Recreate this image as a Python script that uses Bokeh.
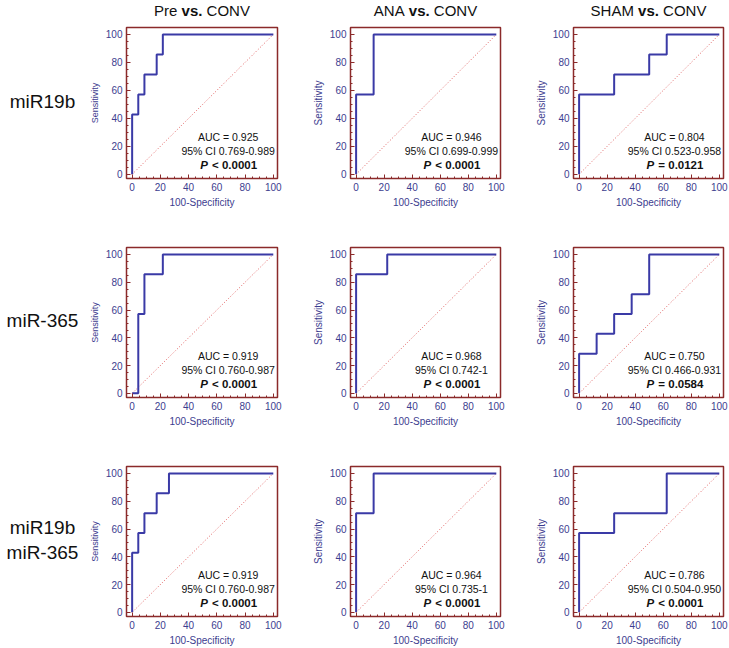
from bokeh.plotting import figure
from bokeh.layouts import column, row
from bokeh.models import Label, FixedTicker, Range1d
from bokeh.embed import file_html
from bokeh.resources import INLINE

# ---------------- data ----------------
groups = ["Pre", "ANA", "SHAM"]
reference_group = "CONV"
row_labels = [["miR19b"], ["miR-365"], ["miR19b", "miR-365"]]

# ROC curves: 100-Specificity (x) and Sensitivity (y); step held after each point
pre_19b_x = [0, 0, 4.35, 8.70, 17.39, 21.74, 100]
pre_19b_y = [0, 42.86, 57.14, 71.43, 85.71, 100, 100]
ana_19b_x = [0, 0, 12.5, 100]
ana_19b_y = [0, 57.14, 100, 100]
sham_19b_x = [0, 0, 25, 50, 62.5, 100]
sham_19b_y = [0, 57.14, 71.43, 85.71, 100, 100]

pre_365_x = [0, 4.35, 8.70, 21.74, 100]
pre_365_y = [0, 57.14, 85.71, 100, 100]
ana_365_x = [0, 0, 22.2, 100]
ana_365_y = [0, 85.71, 100, 100]
sham_365_x = [0, 0, 12.5, 25, 37.5, 50, 100]
sham_365_y = [0, 28.57, 42.86, 57.14, 71.43, 100, 100]

pre_both_x = [0, 0, 4.35, 8.70, 17.39, 26.09, 100]
pre_both_y = [0, 42.86, 57.14, 71.43, 85.71, 100, 100]
ana_both_x = [0, 0, 12.5, 100]
ana_both_y = [0, 71.43, 100, 100]
sham_both_x = [0, 0, 25, 62.5, 100]
sham_both_y = [0, 57.14, 71.43, 100, 100]

auc = [["0.925", "0.946", "0.804"],
       ["0.919", "0.968", "0.750"],
       ["0.919", "0.964", "0.786"]]
ci = [["0.769-0.989", "0.699-0.999", "0.523-0.958"],
      ["0.760-0.987", "0.742-1", "0.466-0.931"],
      ["0.760-0.987", "0.735-1", "0.504-0.950"]]
pval = [["< 0.0001", "< 0.0001", "= 0.0121"],
        ["< 0.0001", "< 0.0001", "= 0.0584"],
        ["< 0.0001", "< 0.0001", "< 0.0001"]]

chance = [0, 100]
ticks = [0, 20, 40, 60, 80, 100]

curves_x = [[pre_19b_x, ana_19b_x, sham_19b_x],
            [pre_365_x, ana_365_x, sham_365_x],
            [pre_both_x, ana_both_x, sham_both_x]]
curves_y = [[pre_19b_y, ana_19b_y, sham_19b_y],
            [pre_365_y, ana_365_y, sham_365_y],
            [pre_both_y, ana_both_y, sham_both_y]]

# ---------------- style ----------------
FONT = "Liberation Sans"
FRAME = "#8b2a2a"
CURVE = "#3a3aa6"
AXTXT = "#3d3d8f"
DIAG = "#e06060"
TXT = "#111111"

XR = (-4, 103)
YR = (-3, 105)
frame_w = [151, 150, 150]
frame_h = [151, 150, 150]
lefts = [42, 44, 44]
rights = [29, 29, 5]
tops = [7, 24, 24]
bottoms = [45, 45, 32]
LABEL_W = 84
TITLE_H = 20

# Arial-like advance widths (per em)
REG = {"A": .667, "N": .722, "S": .667, "H": .722, "M": .833, "P": .667,
       "r": .333, "e": .556, "C": .722, "O": .778, "V": .667, " ": .278}
BLD = {"v": .556, "s": .556, ".": .278, "P": .667, " ": .278, "<": .584,
       "=": .584}


def tw(s, size, table):
    return sum(table.get(ch, .556) for ch in s) * size


def make_panel(r, c):
    p = figure(width=lefts[c] + frame_w[c] + rights[c],
               height=tops[r] + frame_h[r] + bottoms[r],
               x_range=XR, y_range=YR, output_backend="svg", toolbar_location=None,
               min_border_left=lefts[c], min_border_right=rights[c],
               min_border_top=tops[r], min_border_bottom=bottoms[r],
               background_fill_color="white", border_fill_color="white")
    p.grid.visible = False
    p.outline_line_color = FRAME
    p.outline_line_width = 1.5
    p.outline_line_alpha = 1.0
    for ax in (p.xaxis[0], p.yaxis[0]):
        ax.ticker = FixedTicker(ticks=ticks, minor_ticks=list(range(0, 101, 5)))
        ax.axis_line_color = None
        ax.major_tick_in = 4
        ax.major_tick_out = 0
        ax.minor_tick_in = 2
        ax.minor_tick_out = 0
        ax.major_tick_line_color = FRAME
        ax.minor_tick_line_color = FRAME
        ax.major_label_text_font = FONT
        ax.major_label_text_font_size = "10px"
        ax.major_label_text_color = AXTXT
        ax.major_label_standoff = 4
        ax.axis_label_text_font = FONT
        ax.axis_label_text_font_style = "normal"
        ax.axis_label_text_color = AXTXT
        ax.axis_label_standoff = 3
    p.xaxis.axis_label = "100-Specificity"
    p.xaxis.axis_label_text_font_size = "10px"
    p.yaxis.axis_label = "Sensitivity"
    p.yaxis.axis_label_text_font_size = "9px" if c == 0 else "10px"

    p.line(chance, chance, line_color=DIAG, line_width=1, line_dash="1 2")
    p.step(curves_x[r][c], curves_y[r][c], mode="after", line_color=CURVE, line_width=2)

    tx = 68
    p.add_layout(Label(x=tx, y=26.7, text="AUC = " + auc[r][c], text_align="center",
                       text_baseline="middle", text_font=FONT, text_font_size="10.5px",
                       text_color=TXT))
    p.add_layout(Label(x=tx, y=16.7, text="95% CI " + ci[r][c], text_align="center",
                       text_baseline="middle", text_font=FONT, text_font_size="10.5px",
                       text_color=TXT))
    size = 11.5
    rest = pval[r][c]
    total = tw("P ", size, BLD) + tw(rest, size, BLD)
    left = -total / 2
    p.add_layout(Label(x=tx, y=7, x_offset=left, text="P", text_align="left",
                       text_baseline="middle", text_font=FONT, text_font_size="11.5px",
                       text_font_style="bold italic", text_color=TXT))
    p.add_layout(Label(x=tx, y=7, x_offset=left + tw("P ", size, BLD) + 1, text=rest,
                       text_align="left", text_baseline="middle", text_font=FONT,
                       text_font_size="11.5px", text_font_style="bold",
                       text_color=TXT))
    return p


def blank(width, height, xr, yr):
    p = figure(width=width, height=height, x_range=Range1d(*xr), y_range=Range1d(*yr),
               output_backend="svg", toolbar_location=None, x_axis_type=None,
               y_axis_type=None, min_border=0, background_fill_color="white",
               border_fill_color="white")
    p.outline_line_color = None
    p.grid.visible = False
    return p


# ----- title strip (pixel coordinates) -----
total_w = LABEL_W + sum(lefts) + sum(frame_w) + sum(rights)
title_fig = blank(total_w, TITLE_H, (0, total_w), (TITLE_H, 0))
xpos = LABEL_W
ts = 15
for c in range(3):
    centre = xpos + lefts[c] + frame_w[c] / 2
    xpos += lefts[c] + frame_w[c] + rights[c]
    w1 = tw(groups[c] + " ", ts, REG)
    wv = tw("vs.", ts, BLD)
    w3 = tw(" " + reference_group, ts, REG)
    start = centre - (w1 + wv + w3) / 2
    common = dict(y=TITLE_H / 2, text_baseline="middle", text_align="left",
                  text_font=FONT, text_font_size="15px", text_color=TXT)
    title_fig.add_layout(Label(x=start, text=groups[c], **common))
    title_fig.add_layout(Label(x=start + w1, text="vs.", text_font_style="bold", **common))
    title_fig.add_layout(Label(x=start + w1 + wv + tw(" ", ts, REG),
                               text=reference_group, **common))

# ----- row label strip (pixel coordinates) -----
grid_h = sum(tops) + sum(frame_h) + sum(bottoms)
label_fig = blank(LABEL_W, grid_h, (0, LABEL_W), (grid_h, 0))
ypos = 0
for r in range(3):
    centre = ypos + tops[r] + frame_h[r] / 2
    ypos += tops[r] + frame_h[r] + bottoms[r]
    lines = row_labels[r]
    n = len(lines)
    for i, t in enumerate(lines):
        off = -(n - 1) / 2 * 25 + i * 25
        label_fig.add_layout(Label(x=42, y=centre + off - 2, text=t, text_align="center",
                                   text_baseline="middle", text_font=FONT,
                                   text_font_size="19px", text_color=TXT))

rows = [row(*[make_panel(r, c) for c in range(3)]) for r in range(3)]
layout = column(title_fig, row(label_fig, column(*rows)))

open("out.html", "w").write(file_html(layout, INLINE))
